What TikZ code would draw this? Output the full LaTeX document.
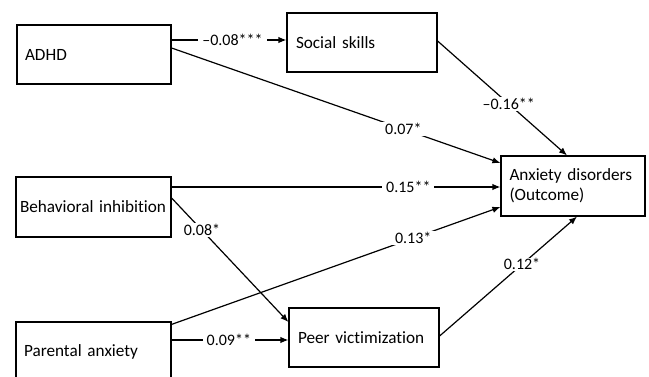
\documentclass[tikz,border=0pt]{standalone}
\usepackage{fontspec}
\setmainfont{Carlito}[Ligatures={TeX,NoCommon}]
\usetikzlibrary{arrows.meta,positioning,calc}

\begin{document}
\begin{tikzpicture}[x=1pt, y=-1pt, line width=1.2pt,
    varbox/.style={draw, rectangle, minimum height=59pt, inner xsep=8pt, align=left, font=\fontsize{17.2}{20}\selectfont},
    coef/.style={fill=white, inner xsep=4pt, inner ysep=1pt, font=\fontsize{16}{18}\selectfont},
    path/.style={-{Latex[length=8pt, width=6.5pt]}}]
\useasboundingbox (0,0) rectangle (649,377);

% variablen
\node[varbox, minimum width=154pt, text width=138pt] (adhd) at (94,54.5) {ADHD};
\node[varbox, minimum width=150pt, text width=132pt, inner xsep=9pt] (social) at (362,42.5) {Social skills};
\node[varbox, minimum width=144pt, minimum height=60pt, text width=127pt, inner xsep=8.5pt] (anx) at (573,186) {Anxiety disorders\\(Outcome)};
\node[varbox, minimum width=155pt, minimum height=60pt, text width=147pt, inner xsep=4pt] (behav) at (93.5,207) {Behavioral inhibition};
\node[varbox, minimum width=155pt, minimum height=60pt, text width=139pt] (parent) at (93.5,352) {Parental anxiety};
\node[varbox, minimum width=150pt, text width=132pt, inner xsep=9pt] (peer) at (364,337.5) {Peer victimization};

% pfade
\draw[path] ([yshift=14.5pt]adhd.east) -- node[coef, pos=0.53] {–0.08***} ([yshift=2.5pt]social.west);
\draw[path] ([yshift=6.5pt]adhd.east) -- node[coef, pos=0.705] {0.07*} ([yshift=23pt]anx.west);
\draw[path] ([yshift=1.5pt]social.east) -- node[coef, pos=0.55] {–0.16**} ([xshift=-6pt]anx.north);
\draw[path] ([yshift=20pt]behav.east) -- node[coef, pos=0.72] {0.15**} ([yshift=-1pt]anx.west);
\draw[path] ([yshift=9pt]behav.east) -- node[coef, pos=0.26] {0.08*} ([yshift=15.5pt]peer.west);
\draw[path] ([yshift=-3pt]parent.north east) -- node[coef, pos=0.735] {0.13*} ([yshift=-21pt]anx.west);
\draw[path] ([yshift=12pt]parent.east) -- node[coef, pos=0.49] {0.09**} ([yshift=-2.5pt]peer.west);
\draw[path] ([yshift=1.5pt]peer.east) -- node[coef, pos=0.6] {0.12*} ([xshift=4pt]anx.south);
\end{tikzpicture}
\end{document}
